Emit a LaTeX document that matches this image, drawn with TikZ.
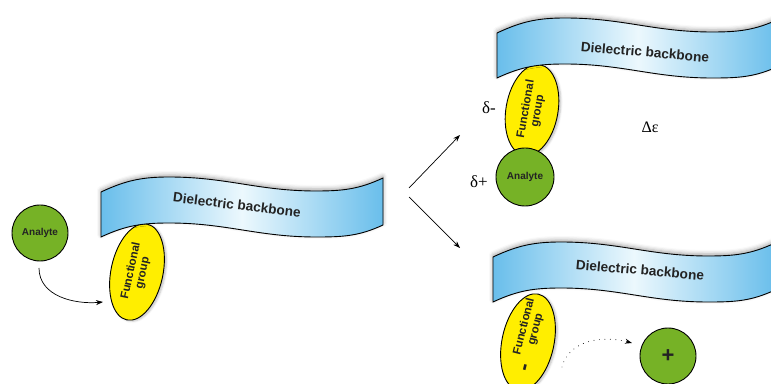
\documentclass[tikz,border=0pt]{standalone}
\usepackage{fontspec}
\setmainfont{Liberation Sans}
\newfontfamily\greekfont{Liberation Serif}
\usetikzlibrary{shapes.geometric,shadows.blur,arrows.meta}

\definecolor{bandblue}{RGB}{105,190,235}
\definecolor{bandpale}{RGB}{236,248,253}
\definecolor{groupyellow}{RGB}{255,238,0}
\definecolor{analytegreen}{RGB}{118,178,38}
\definecolor{inktext}{RGB}{35,35,35}

\tikzset{
  band/.style={draw=black,line width=0.9pt,left color=bandblue,right color=bandblue,middle color=bandpale,
    blur shadow={shadow xshift=0pt,shadow yshift=2pt,shadow blur radius=4pt,shadow opacity=35}},
  bandtext/.style={font=\bfseries\fontsize{13.6}{15}\selectfont,text=inktext},
  grouptext/.style={align=center,font=\bfseries\fontsize{11.5}{12}\selectfont,text=inktext},
  group/.style={ellipse,draw=black,line width=0.9pt,fill=groupyellow,minimum width=98pt,minimum height=52pt,
    inner sep=0pt,grouptext,
    blur shadow={shadow xshift=2pt,shadow yshift=-1pt,shadow blur radius=2pt,shadow opacity=25}},
  analyte/.style={circle,draw=black,line width=0.9pt,fill=analytegreen,minimum size=56pt,inner sep=0pt,
    font=\bfseries\fontsize{10}{11}\selectfont,text=inktext},
  charge/.style={font=\greekfont\fontsize{17}{20}\selectfont},
  flow/.style={-{Stealth[length=7pt,width=5pt]},line width=0.7pt},
  pics/backbone/.style={code={
    \draw[band] (0,0) to[out=25,in=180] (68,15) to[out=0,in=180] (215,1) to[out=0,in=205] (282,14)
      -- (282,-33) to[out=205,in=0] (215,-45) to[out=180,in=0] (68,-31) to[out=180,in=25] (0,-45) -- cycle;
  }}
}

\begin{document}
\begin{tikzpicture}[x=1pt,y=1pt]
\useasboundingbox (0,0) rectangle (771,383);
\clip (0,0) rectangle (771,383);

% free analyte and the receptor
\node[analyte] (an1) at (40,150) {Analyte};
\node[group,rotate=78] (fg1) at (137,111) {Functional\\group};
\pic at (101,191) {backbone};
\node[bandtext,rotate=-7] (db1) at (237,178) {Dielectric backbone};
\coordinate (c1) at (39,115);
\coordinate (c2) at (103,81);
\draw[flow] (c1) to[out=-90,in=185] (c2);

% two outcomes
\coordinate (fork1) at (409,195);
\coordinate (fork2) at (409,186);
\coordinate (up) at (460,248);
\coordinate (down) at (460,135);
\draw[flow] (fork1) -- (up);
\draw[flow] (fork2) -- (down);

% bound analyte, dipole
\node[group,rotate=80,minimum width=92pt] (fg2) at (532,273) {Functional\\group};
\node[analyte,minimum size=58pt] (an2) at (525,206) {Analyte};
\pic at (497,350) {backbone};
\node[bandtext,rotate=-5] (db2) at (645,331) {Dielectric backbone};
\node[charge] (dm) at (489,275) {δ-};
\node[charge] (dp) at (479,201) {δ+};
\node[charge,font=\greekfont\fontsize{16}{18}\selectfont] (de) at (650,256) {Δε};

% released charge
\node[group,rotate=78] (fg3) at (528,41) {};
\node[grouptext,rotate=76] (fg3t) at (530,55) {Functional\\group};
\node[rotate=76,font=\bfseries\fontsize{22}{22}\selectfont,text=inktext,inner sep=0pt] (minus) at (527,15) {-};
\pic at (493,126) {backbone};
\node[bandtext,rotate=-5] (db3) at (640,113) {Dielectric backbone};
\node[analyte,font=\bfseries\fontsize{22}{24}\selectfont] (pc) at (668,27) {+};
\coordinate (d1) at (562,16);
\coordinate (d2) at (632,40);
\draw[flow,line width=0.9pt,line cap=round,dash pattern=on 0pt off 5.5pt] (d1) to[out=75,in=165] (d2);
\end{tikzpicture}
\end{document}
